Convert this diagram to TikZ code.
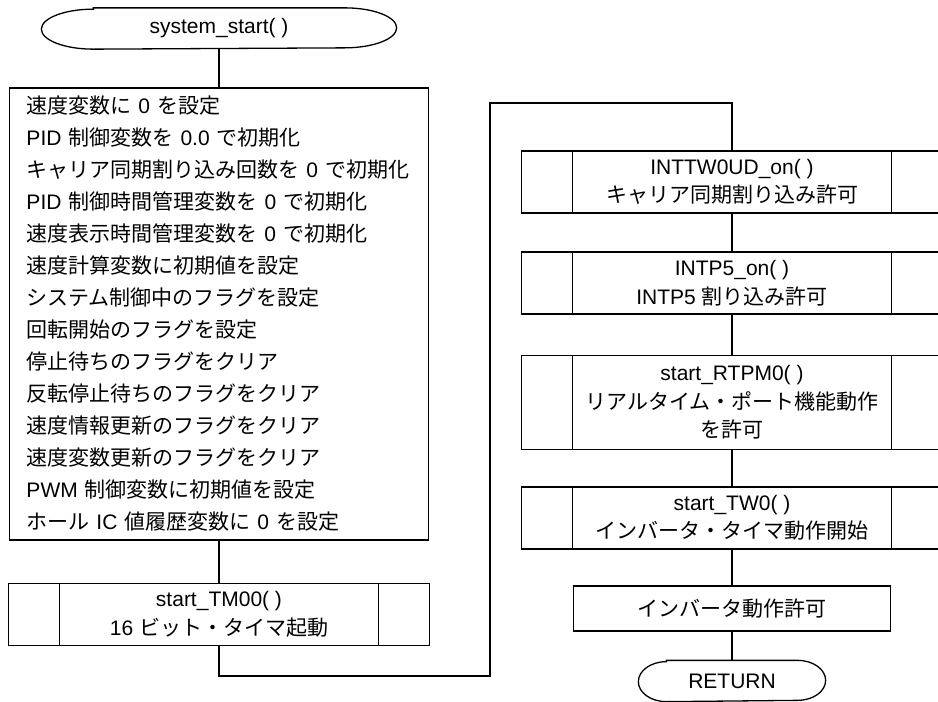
\documentclass[tikz,border=0pt]{standalone}
\usepackage{fontspec}
\setmainfont{Liberation Sans}
\newfontfamily\jpfont{Noto Sans CJK JP}

% Japanese characters are set in the CJK font, the rest in Liberation Sans
\XeTeXinterchartokenstate=1
\newXeTeXintercharclass\jpclass
\newcount\jpcode
\jpcode="3000
\loop
  \XeTeXcharclass\jpcode=\jpclass
  \ifnum\jpcode<"9FFF
  \advance\jpcode by 1
\repeat
\XeTeXinterchartoks 0 \jpclass = {\jpfont}
\XeTeXinterchartoks 4095 \jpclass = {\jpfont}
\XeTeXinterchartoks \jpclass 0 = {\rmfamily}
\XeTeXinterchartoks \jpclass 4095 = {\rmfamily}

\begin{document}
\begin{tikzpicture}[x=1pt,y=1pt,yscale=-1,xscale=1,line width=1.3pt,
    every node/.style={font=\fontsize{21}{28.5}\selectfont, inner sep=0pt},
    terminal/.style={rectangle, minimum width=#1, minimum height=40pt},
    procbox/.style={draw, rectangle, minimum width=317pt, minimum height=45pt},
    subproc/.style={draw, rectangle, align=center, minimum width=421pt, minimum height=#1,
        path picture={
            \draw ([xshift=51pt]path picture bounding box.north west) -- ([xshift=51pt]path picture bounding box.south west);
            \draw ([xshift=-51pt]path picture bounding box.north east) -- ([xshift=-51pt]path picture bounding box.south east);
        }}]
    \useasboundingbox (0,0) rectangle (938,702);
    \clip (0,0) rectangle (938,702);

    %Left column
    \node [terminal=354pt] (start) at (219,28.5) {system\_start( )};
    \node [draw, rectangle, minimum width=419pt, minimum height=452pt, text width=385pt, align=left,
        font=\fontsize{21}{32}\selectfont] (init) at (219,314)
        {速度変数に 0 を設定\\
         PID 制御変数を 0.0 で初期化\\
         キャリア同期割り込み回数を 0 で初期化\\
         PID 制御時間管理変数を 0 で初期化\\
         速度表示時間管理変数を 0 で初期化\\
         速度計算変数に初期値を設定\\
         システム制御中のフラグを設定\\
         回転開始のフラグを設定\\
         停止待ちのフラグをクリア\\
         反転停止待ちのフラグをクリア\\
         速度情報更新のフラグをクリア\\
         速度変数更新のフラグをクリア\\
         PWM 制御変数に初期値を設定\\
         ホール IC 値履歴変数に 0 を設定};
    \node [subproc=62pt] (tm00) at (219,614.5) {start\_TM00( )\\16 ビット・タイマ起動};

    %Right column
    \node [subproc=62pt] (inttw) at (732,182) {INTTW0UD\_on( )\\キャリア同期割り込み許可};
    \node [subproc=62pt] (intp5) at (732,283) {INTP5\_on( )\\INTP5 割り込み許可};
    \node [subproc=94pt] (rtpm) at (732,402.5) {start\_RTPM0( )\\リアルタイム・ポート機能動作\\を許可};
    \node [subproc=62pt] (tw0) at (732,518) {start\_TW0( )\\インバータ・タイマ動作開始};
    \node [procbox] (inv) at (732,608.5) {インバータ動作許可};
    \node [terminal=186pt] (ret) at (732,681) {RETURN};

    %Terminal outlines
    \draw ([xshift=52pt]start.north west) -- ([xshift=-52pt]start.north east)
        arc[start angle=-90, end angle=90, x radius=52, y radius=20]
        -- ([xshift=52pt]start.south west)
        arc[start angle=90, end angle=270, x radius=52, y radius=20] -- cycle;
    \draw ([xshift=28pt]ret.north west) -- ([xshift=-28pt]ret.north east)
        arc[start angle=-90, end angle=90, x radius=28, y radius=20]
        -- ([xshift=28pt]ret.south west)
        arc[start angle=90, end angle=270, x radius=28, y radius=20] -- cycle;

    %Connectors
    \coordinate (lowbend) at (490,676);
    \coordinate (highbend) at (490,103);
    \draw (start.south) -- (init.north);
    \draw (init.south) -- (tm00.north);
    \draw (tm00.south) |- (lowbend) -- (highbend) -| (inttw.north);
    \draw (inttw.south) -- (intp5.north);
    \draw (intp5.south) -- (rtpm.north);
    \draw (rtpm.south) -- (tw0.north);
    \draw (tw0.south) -- (inv.north);
    \draw (inv.south) -- (ret.north);
\end{tikzpicture}
\end{document}
